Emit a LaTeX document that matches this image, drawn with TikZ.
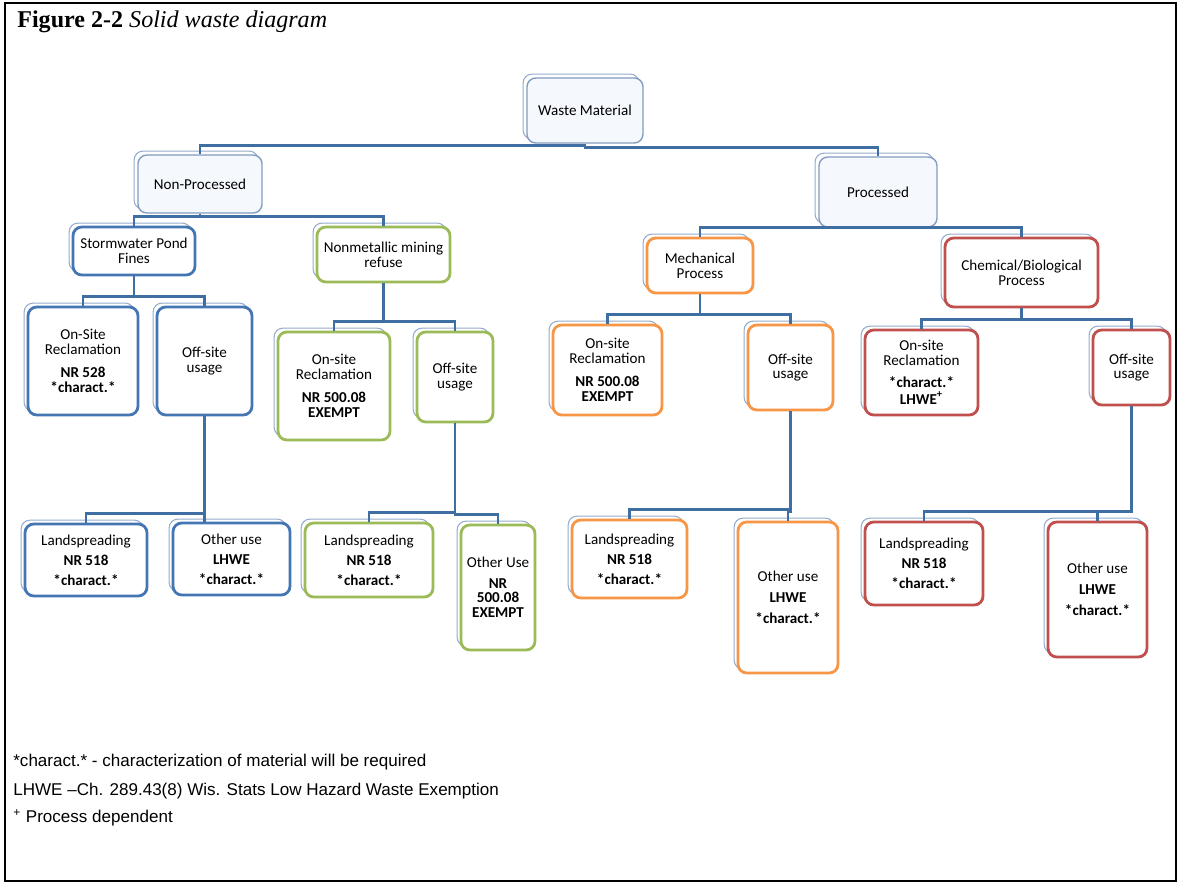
\documentclass[tikz,border=0pt]{standalone}
\usepackage{fontspec}
\newfontfamily\boxfont{Carlito}
\newfontfamily\notefont{Liberation Sans}
\newfontfamily\headfont{Liberation Serif}
\usetikzlibrary{calc,shadows}

\definecolor{lineblue}{RGB}{62,110,162}
\definecolor{backedge}{RGB}{150,172,204}
\definecolor{topedge}{RGB}{130,156,192}
\definecolor{topfill}{RGB}{245,248,252}
\definecolor{cblue}{RGB}{68,118,180}
\definecolor{cgreen}{RGB}{155,187,89}
\definecolor{corange}{RGB}{247,150,70}
\definecolor{cred}{RGB}{192,80,77}

\begin{document}
\begin{tikzpicture}[x=0.02cm,y=-0.02cm,
  card/.style={rounded corners=5pt, fill=white, align=center, inner sep=2pt,
    font=\boxfont\fontsize{8.6}{8.4}\selectfont,
    copy shadow={shadow xshift=-2.2pt, shadow yshift=2.2pt, draw=backedge, fill=white, line width=0.6pt}},
  headbox/.style={card, draw=topedge, line width=0.8pt, fill=topfill},
  blu/.style={card, draw=cblue, line width=1.6pt},
  grn/.style={card, draw=cgreen, line width=1.6pt},
  org/.style={card, draw=corange, line width=1.6pt},
  rdd/.style={card, draw=cred, line width=1.6pt},
  sz/.style 2 args={minimum width=#1*0.02cm, minimum height=#2*0.02cm},
  conn/.style={draw=lineblue, line width=1.6pt},
  note/.style={anchor=west, inner sep=0pt, font=\notefont\fontsize{9.7}{11}\selectfont}]

\useasboundingbox (0,0) rectangle (1179,884);
\draw[line width=1.2pt] (5,3) rectangle (1176,881);
\node[anchor=base west, inner sep=0pt, font=\headfont\fontsize{13.7}{16}\selectfont] (title) at (17,28)
  {\textbf{Figure 2-2} \textit{Solid waste diagram}};

\node[headbox, sz={116}{65}] (waste) at (585,110.5) {Waste Material};
\node[headbox, sz={124}{58}] (nonp) at (200,184) {Non-Processed};
\node[headbox, sz={118}{70}] (proc) at (878,192) {Processed};

\node[blu, sz={122}{48}] (storm) at (134,251) {Stormwater Pond\\Fines};
\node[blu, sz={110}{108}] (bon) at (83,361) {On-Site\\Reclamation\\[4.8pt]\textbf{NR 528}\\\textbf{*charact.*}};
\node[blu, sz={95}{108}] (boff) at (204.5,361) {Off-site\\usage};
\node[blu, sz={122}{72}] (bland) at (86,560) {Landspreading\\[3pt]\textbf{NR 518}\\[3pt]\textbf{*charact.*}};
\node[blu, sz={117}{72}] (bother) at (231.5,559) {Other use\\[3pt]\textbf{LHWE}\\[3pt]\textbf{*charact.*}};

\node[grn, sz={133}{55}] (nonm) at (383.5,254.5) {Nonmetallic mining\\refuse};
\node[grn, sz={112}{108}] (gon) at (334,386) {On-site\\Reclamation\\[4.8pt]\textbf{NR 500.08}\\\textbf{EXEMPT}};
\node[grn, sz={76}{90}] (goff) at (455,377) {Off-site\\usage};
\node[grn, sz={128}{74}] (gland) at (369,560) {Landspreading\\[3pt]\textbf{NR 518}\\[3pt]\textbf{*charact.*}};
\node[grn, sz={74}{125}] (gother) at (498,587.5) {Other Use\\[3pt]\textbf{NR}\\\textbf{500.08}\\\textbf{EXEMPT}};

\node[org, sz={106}{55}] (mech) at (700,265.5) {Mechanical\\Process};
\node[org, sz={109}{90}] (oon) at (607.5,370) {On-site\\Reclamation\\[4.8pt]\textbf{NR 500.08}\\\textbf{EXEMPT}};
\node[org, sz={85}{85}] (ooff) at (790.5,367.5) {Off-site\\usage};
\node[org, sz={115}{78}] (oland) at (629.5,559) {Landspreading\\[3pt]\textbf{NR 518}\\[3pt]\textbf{*charact.*}};
\node[org, sz={100}{151}] (oother) at (788,597.5) {Other use\\[3.5pt]\textbf{LHWE}\\[3.5pt]\textbf{*charact.*}};

\node[rdd, sz={153}{69}] (chem) at (1021.5,272.5) {Chemical/Biological\\Process};
\node[rdd, sz={113}{85}] (ron) at (921.5,372.5) {On-site\\Reclamation\\[4pt]\textbf{*charact.*}\\[1.5pt]\textbf{LHWE\textsuperscript{+}}};
\node[rdd, sz={77}{75}] (roff) at (1131.5,367.5) {Off-site\\usage};
\node[rdd, sz={118}{83}] (rland) at (924,563.5) {Landspreading\\[3pt]\textbf{NR 518}\\[3pt]\textbf{*charact.*}};
\node[rdd, sz={99}{135}] (rother) at (1097.5,589.5) {Other use\\[3.5pt]\textbf{LHWE}\\[3.5pt]\textbf{*charact.*}};

\foreach \p/\c in {waste/nonp,waste/proc,nonp/storm,nonp/nonm,proc/mech,proc/chem,
  storm/bon,storm/boff,boff/bland,nonm/gon,nonm/goff,goff/gland,goff/gother,
  mech/oon,mech/ooff,ooff/oland,ooff/oother,chem/ron,chem/roff,roff/rland,roff/rother}
  \draw[conn] (\p.south) |- ($(\c.north)+(0,-9)$) -- (\c.north);
\draw[conn] (boff.south) -- (boff.south |- bother.north);

\node[note] (n1) at (13,762) {*charact.* - characterization of material will be required};
\node[note] (n2) at (13,791) {LHWE \textendash Ch. 289.43(8) Wis. Stats Low Hazard Waste Exemption};
\node[note] (n3) at (13,818) {\textsuperscript{+} Process dependent};
\end{tikzpicture}
\end{document}
